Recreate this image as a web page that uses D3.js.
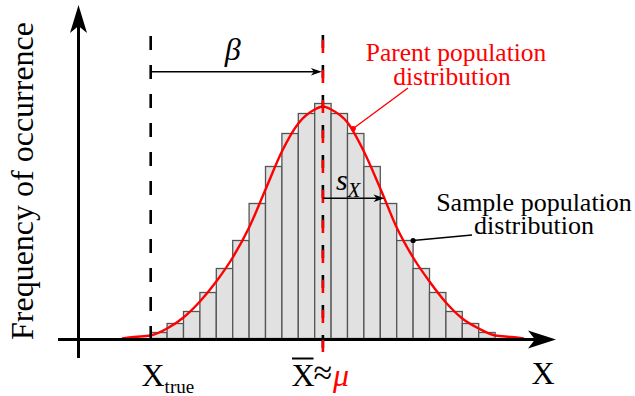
<!DOCTYPE html>
<html>
<head>
<meta charset="utf-8">
<script src="https://cdn.jsdelivr.net/npm/d3@7"></script>
<style>
  body { margin: 0; background: #fff; }
  svg { display: block; }
</style>
</head>
<body>
<svg id="chart" width="635" height="396"></svg>
<script>
// histogram bins (centre, in bin-width units from the mean) and their counts
const binMid  = [-10, -9, -8, -7, -6, -5, -4, -3, -2, -1, 0, 1, 2, 3, 4, 5, 6, 7, 8, 9, 10];
const binFreq = [6, 15, 27, 46, 70, 98, 135, 172, 205, 225, 235, 225, 205, 172, 135, 98, 70, 46, 27, 15, 6];

// parent population curve
const curveX    = [-12.25, -11.5, -10.5, -9.5, -8.5, -7.5, -6.5, -5.5, -4.5, -3.5, -2.5, -1.5, -0.5, 0,
                   0.5, 1.5, 2.5, 3.5, 4.5, 5.5, 6.5, 7.5, 8.5, 9.5, 10.5, 11.5, 12.25];
const curveFreq = [0, 1.5, 3, 10, 21, 37, 57, 81, 111, 149, 187, 215, 229, 232,
                   229, 216, 187, 150, 111, 81, 57, 36, 20, 10, 3, 1.5, 0];

const xTrue = -10.5;   // true value
const xMean = 0;       // sample mean ~ mu
const sX    = 3.7;     // sample standard deviation

var serif = "'Liberation Serif', 'Times New Roman', 'DejaVu Serif', serif";

var svg = d3.select("#chart")
    .attr("font-family", serif);
var w = 635, h = 396;

var x = d3.scaleLinear().domain([-10.5, 10.5]).range([150.7, 495.1]);
var y = d3.scaleLinear().domain([0, 240]).range([338.5, 98.5]);

var axisX0 = 78.5;   // where the vertical axis sits
var axisY0 = 339.5;  // where the horizontal axis sits

// bars
svg.append("g").selectAll("rect")
    .data(binMid)
  .enter().append("rect")
    .attr("x", d => x(d - 0.5))
    .attr("y", (d, i) => y(binFreq[i]))
    .attr("width", x(1) - x(0))
    .attr("height", (d, i) => y(0) - y(binFreq[i]))
    .attr("fill", "#e1e1e1")
    .attr("stroke", "#555")
    .attr("stroke-width", 1.3);

// parent curve
var line = d3.line()
    .x((d, i) => x(d))
    .y((d, i) => y(curveFreq[i]))
    .curve(d3.curveMonotoneX);

svg.append("path")
    .datum(curveX)
    .attr("d", line)
    .attr("fill", "none")
    .attr("stroke", "#ff0000")
    .attr("stroke-width", 2.4);

// axes with arrow heads
svg.append("line")
    .attr("x1", 58).attr("x2", 540)
    .attr("y1", axisY0).attr("y2", axisY0)
    .attr("stroke", "#000").attr("stroke-width", 3);
svg.append("line")
    .attr("x1", axisX0).attr("x2", axisX0)
    .attr("y1", 358).attr("y2", 20)
    .attr("stroke", "#000").attr("stroke-width", 3);

svg.append("path")
    .attr("d", `M556,${axisY0} L528,${axisY0 - 9} L535,${axisY0} L528,${axisY0 + 9} Z`)
    .attr("fill", "#000");
svg.append("path")
    .attr("d", `M${axisX0},5 L${axisX0 - 8.5},33 L${axisX0},26 L${axisX0 + 8.5},33 Z`)
    .attr("fill", "#000");

// X true dashed line
svg.append("line")
    .attr("x1", x(xTrue)).attr("x2", x(xTrue))
    .attr("y1", 36).attr("y2", 345)
    .attr("stroke", "#000").attr("stroke-width", 2.6)
    .attr("stroke-dasharray", "14,15");

// mean dashed line (black under red, slightly offset)
svg.append("line")
    .attr("x1", x(xMean)).attr("x2", x(xMean))
    .attr("y1", 35).attr("y2", 348)
    .attr("stroke", "#000").attr("stroke-width", 2.6)
    .attr("stroke-dasharray", "13,17");
svg.append("line")
    .attr("x1", x(xMean)).attr("x2", x(xMean))
    .attr("y1", 40).attr("y2", 352)
    .attr("stroke", "#ff0000").attr("stroke-width", 2.6)
    .attr("stroke-dasharray", "13,17");

// small arrows
function arrow(x1, x2, yy) {
    svg.append("line")
        .attr("x1", x1).attr("x2", x2 - 6)
        .attr("y1", yy).attr("y2", yy)
        .attr("stroke", "#000").attr("stroke-width", 1.5);
    svg.append("path")
        .attr("d", `M${x2},${yy} L${x2 - 11},${yy - 3.8} L${x2 - 8},${yy} L${x2 - 11},${yy + 3.8} Z`)
        .attr("fill", "#000");
}
arrow(x(xTrue), x(xMean) - 1, 71.7);
arrow(x(xMean), x(xMean + sX) + 1, 198.3);

svg.append("text")
    .attr("x", (x(xTrue) + x(xMean)) / 2 - 4)
    .attr("y", 60)
    .attr("text-anchor", "middle")
    .attr("font-size", 32)
    .attr("font-style", "italic")
    .text("β");

var sLab = svg.append("text")
    .attr("x", x(xMean) + 13)
    .attr("y", 190)
    .attr("font-size", 30)
    .attr("font-style", "italic")
    .text("s");
sLab.append("tspan")
    .attr("dy", 7)
    .attr("font-size", 21)
    .text("X");

// labels with leader lines
var parentDot = {u: 1.85, f: 210};
svg.append("line")
    .attr("x1", 408).attr("y1", 88)
    .attr("x2", x(parentDot.u)).attr("y2", y(parentDot.f))
    .attr("stroke", "#ff0000").attr("stroke-width", 1.4);
svg.append("circle")
    .attr("cx", x(parentDot.u)).attr("cy", y(parentDot.f))
    .attr("r", 2.6).attr("fill", "#ff0000");

var parentLines = ["Parent population", "distribution"];
parentLines.forEach(function(t, i) {
    svg.append("text")
        .attr("x", i == 0 ? 456 : 452)
        .attr("y", 61 + i * 23.5)
        .attr("text-anchor", "middle")
        .attr("font-size", 25.5)
        .attr("fill", "#ff0000")
        .text(t);
});

// sample dot sits on the corner of bin +5
svg.append("line")
    .attr("x1", 472).attr("y1", 235)
    .attr("x2", x(5.5)).attr("y2", y(binFreq[15]))
    .attr("stroke", "#000").attr("stroke-width", 1.4);
svg.append("circle")
    .attr("cx", x(5.5)).attr("cy", y(binFreq[15]))
    .attr("r", 2.6).attr("fill", "#000");

var sampleLines = ["Sample population", "distribution"];
sampleLines.forEach(function(t, i) {
    svg.append("text")
        .attr("x", 534)
        .attr("y", 211 + i * 23)
        .attr("text-anchor", "middle")
        .attr("font-size", 26)
        .attr("fill", "#000")
        .text(t);
});

// axis titles
svg.append("text")
    .attr("transform", "translate(33,181) rotate(-90)")
    .attr("text-anchor", "middle")
    .attr("font-size", 32)
    .text("Frequency of occurrence");

var xt = svg.append("text")
    .attr("x", 141.5)
    .attr("y", 386)
    .attr("font-size", 32)
    .text("X");
xt.append("tspan")
    .attr("dy", 7)
    .attr("font-size", 19)
    .text("true");

svg.append("text")
    .attr("x", 291.5)
    .attr("y", 386)
    .attr("font-size", 32)
    .text("X");
svg.append("line")
    .attr("x1", 292).attr("x2", 313.5)
    .attr("y1", 358.5).attr("y2", 358.5)
    .attr("stroke", "#000").attr("stroke-width", 2);
svg.append("text")
    .attr("x", 313.5)
    .attr("y", 384)
    .attr("font-size", 34)
    .text("≈");
svg.append("text")
    .attr("x", 333)
    .attr("y", 386)
    .attr("font-size", 32)
    .attr("font-style", "italic")
    .attr("fill", "#ff0000")
    .text("μ");

svg.append("text")
    .attr("x", 531.5)
    .attr("y", 384)
    .attr("font-size", 32)
    .text("X");
</script>
</body>
</html>
